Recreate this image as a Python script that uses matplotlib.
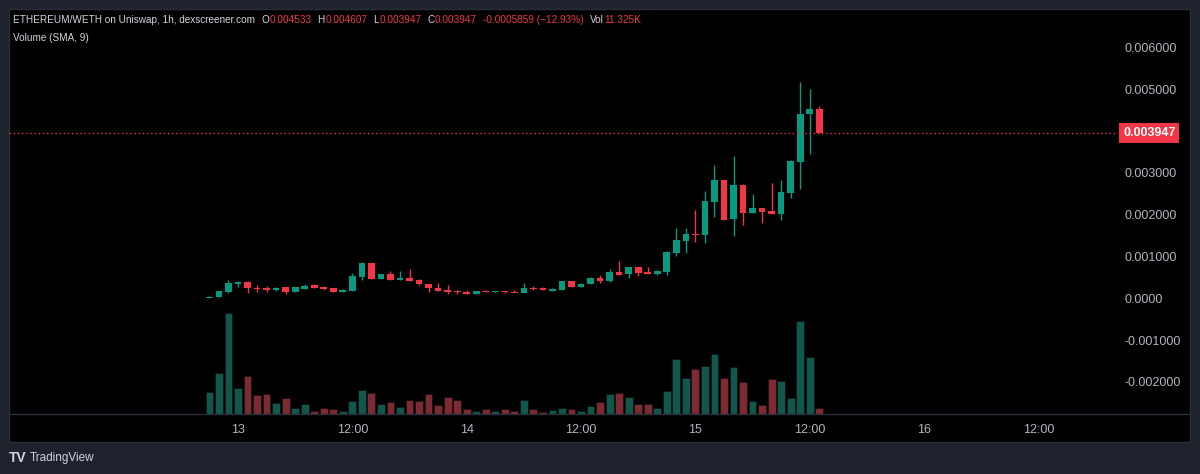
#Import libraries
import matplotlib
matplotlib.use("Agg")
import matplotlib.pyplot as plt
import numpy as np
from matplotlib.patches import Rectangle
from matplotlib.lines import Line2D
import matplotlib.transforms as mtransforms

#Candle data, hourly, hours counted from the 13th 00:00 (prices in thousandths)
hours = list(range(-3, 62))
opens = [0.01, 0.02, 0.15, 0.35, 0.40, 0.25, 0.24, 0.20, 0.26, 0.15, 0.23, 0.31, 0.28, 0.24, 0.15,
         0.17, 0.52, 0.84, 0.45, 0.58, 0.43, 0.49, 0.43, 0.34, 0.25, 0.20, 0.17, 0.16, 0.10, 0.17,
         0.14, 0.17, 0.16, 0.13, 0.25, 0.24, 0.18, 0.20, 0.41, 0.28, 0.33, 0.49, 0.41, 0.62, 0.57,
         0.75, 0.63, 0.59, 0.64, 1.09, 1.37, 1.54, 1.52, 2.31, 2.83, 1.89, 2.72, 2.04, 2.17, 2.08,
         2.02, 2.52, 3.27, 4.40, 4.533]
highs = [0.05, 0.18, 0.43, 0.42, 0.41, 0.32, 0.29, 0.27, 0.27, 0.27, 0.34, 0.33, 0.30, 0.25, 0.22,
         0.60, 0.87, 0.84, 0.59, 0.66, 0.66, 0.71, 0.46, 0.35, 0.36, 0.32, 0.20, 0.20, 0.17, 0.19,
         0.17, 0.17, 0.19, 0.37, 0.29, 0.26, 0.25, 0.41, 0.41, 0.36, 0.51, 0.56, 0.70, 0.88, 0.75,
         0.75, 0.75, 0.67, 1.13, 1.67, 1.67, 2.11, 2.57, 3.19, 2.83, 3.40, 2.73, 2.49, 2.17, 2.75,
         2.83, 3.31, 5.18, 5.00, 4.607]
lows = [0.00, 0.02, 0.13, 0.28, 0.13, 0.16, 0.14, 0.18, 0.11, 0.15, 0.23, 0.24, 0.19, 0.15, 0.15,
        0.17, 0.44, 0.45, 0.45, 0.43, 0.43, 0.41, 0.32, 0.16, 0.17, 0.11, 0.10, 0.10, 0.10, 0.14,
        0.14, 0.12, 0.14, 0.13, 0.21, 0.20, 0.17, 0.20, 0.28, 0.28, 0.33, 0.37, 0.40, 0.56, 0.48,
        0.54, 0.59, 0.55, 0.56, 1.02, 1.09, 1.35, 1.33, 1.95, 1.88, 1.50, 1.75, 2.04, 1.80, 2.02,
        1.86, 2.40, 2.61, 3.44, 3.947]
closes = [0.04, 0.17, 0.37, 0.40, 0.25, 0.22, 0.21, 0.25, 0.16, 0.26, 0.30, 0.25, 0.22, 0.16, 0.20,
          0.53, 0.84, 0.45, 0.58, 0.43, 0.49, 0.41, 0.33, 0.25, 0.17, 0.16, 0.14, 0.10, 0.17, 0.14,
          0.17, 0.14, 0.14, 0.25, 0.22, 0.20, 0.22, 0.41, 0.28, 0.34, 0.48, 0.41, 0.62, 0.56, 0.75,
          0.60, 0.59, 0.66, 1.11, 1.39, 1.54, 1.51, 2.33, 2.83, 1.88, 2.72, 2.04, 2.17, 2.06, 2.02,
          2.55, 3.28, 4.41, 4.52, 3.947]
#Volume in thousands
volumes = [44.6, 82, 202.6, 52, 76.6, 37.4, 40.6, 22.6, 32, 12.6, 19.4, 5.4, 12.6, 10.6, 6,
           26.6, 48, 42.6, 19.4, 24.6, 13.4, 28.6, 25.4, 39.4, 17.4, 33.4, 27.4, 9.4, 6.6, 9.4,
           6.6, 9.4, 5.4, 27.4, 10.6, 3.4, 7.4, 12.6, 9.4, 6, 16, 23.4, 40, 41.4, 34,
           19.4, 19.4, 12.6, 46.6, 110, 72, 90, 95.4, 120, 72, 93.4, 63.4, 25.4, 18, 70,
           66, 32.6, 186.6, 113.4, 11.3]

#Axis ticks
price_ticks = [0.006, 0.005, 0.003, 0.002, 0.001, 0.0, -0.001, -0.002]
price_labels = ["0.006000", "0.005000", "0.003000", "0.002000", "0.001000", "0.0000", "-0.001000", "-0.002000"]
time_ticks = [0, 12, 24, 36, 48, 60, 72, 84]
time_labels = ["13", "12:00", "14", "12:00", "15", "12:00", "16", "12:00"]

#Header texts
title_text = "ETHEREUM/WETH on Uniswap, 1h, dexscreener.com"
ohlc_text = [("O", "0.004533"), ("H", "0.004607"), ("L", "0.003947"), ("C", "0.003947")]
change_text = "-0.0005859 (\u221212.93%)"
vol_text = "11.325K"
last_price = 0.003947

#Colors
UP = "#089981"
DOWN = "#f23645"
UP_VOL = "#11574b"
DOWN_VOL = "#7e2a33"
FRAME = "#1e222d"
BORDER = "#2a2e39"
TXT = "#d1d4dc"
AXTXT = "#b2b5be"

plt.rcParams['font.family'] = ['Liberation Sans', 'DejaVu Sans']

W, H = 1200, 474
fig = plt.figure(figsize=(12, 4.74), dpi=100, facecolor=FRAME)

def fx(px):
    return px / W

def fy(py):
    return 1 - py / H

#Black chart panel
fig.patches.append(Rectangle((fx(9), fy(442)), fx(1190) - fx(9), fy(9) - fy(442),
                             transform=fig.transFigure, facecolor="black", edgecolor=BORDER, lw=1, zorder=0))

rect = [fx(9), fy(414), fx(1118) - fx(9), fy(9) - fy(414)]
x0, x1 = (9 - 238) / 9.529, (1118 - 238) / 9.529

#Volume axes (behind)
axv = fig.add_axes(rect, facecolor="black", zorder=1)
o = np.array(opens)
c = np.array(closes)
up = c >= o
axv.bar(hours, volumes, width=0.82, color=np.where(up, UP_VOL, DOWN_VOL),
        edgecolor="#0c0c0c", linewidth=0.4)
axv.set_xlim(x0, x1)
axv.set_ylim(0, 810)
axv.axis("off")

#Price axes
ax = fig.add_axes(rect, zorder=2)
ax.patch.set_alpha(0)
o = o * 1e-3
c = c * 1e-3
hi = np.array(highs) * 1e-3
lo = np.array(lows) * 1e-3
cols = np.where(up, UP, DOWN)
ax.vlines(hours, lo, hi, colors=cols, linewidth=1)
body = c - o
body = np.where(np.abs(body) < 0.00003, np.where(up, 0.00003, -0.00003), body)
ax.bar(hours, body, bottom=o, width=0.7, color=cols, linewidth=0)

ax.axhline(last_price, color=DOWN, linestyle=(0, (1, 2)), linewidth=1)

ax.set_xlim(x0, x1)
ax.set_ylim((298.3 - 414) / 41.83 * 1e-3, (298.3 - 9) / 41.83 * 1e-3)
for s in ax.spines.values():
    s.set_visible(False)
ax.yaxis.tick_right()
ax.set_yticks(price_ticks)
ax.set_yticklabels(price_labels)
ax.set_xticks(time_ticks)
ax.set_xticklabels(time_labels)
ax.tick_params(axis="y", length=0, pad=5, colors=AXTXT, labelsize=9)
ax.tick_params(axis="x", length=0, pad=7, colors=AXTXT, labelsize=9)

#Last price label
tr = mtransforms.blended_transform_factory(ax.transAxes, ax.transData)
ax.text((1123 - 9) / 1109, last_price, "0.003947", transform=tr, ha="left", va="center",
        color="white", fontsize=9, fontweight="bold",
        bbox=dict(boxstyle="square,pad=0.3", facecolor=DOWN, edgecolor="none"))

#Separator line between plot and time axis
fig.add_artist(Line2D([fx(9), fx(1190)], [fy(414), fy(414)], color=BORDER, lw=1, transform=fig.transFigure))

#Header line built piece by piece
r = fig.canvas.get_renderer()
def put(x, y, s, color, **kw):
    t = fig.text(fx(x), fy(y), s, color=color, fontsize=7.2, va="center", ha="left", **kw)
    return t.get_window_extent(renderer=r).x1

xp = put(13, 20, title_text, TXT) + 6
for k, v in ohlc_text:
    xp = put(xp, 20, k, TXT)
    xp = put(xp + 0.5, 20, v, DOWN) + 6
xp = put(xp, 20, change_text, DOWN) + 6
xp = put(xp, 20, "Vol", TXT)
put(xp + 0.5, 20, vol_text, DOWN)
put(13, 38, "Volume (SMA, 9)", TXT)

#TradingView mark
fig.text(fx(9), fy(458), "TV", color=TXT, fontsize=10, fontweight="bold", va="center", ha="left")
fig.text(fx(30), fy(458), "TradingView", color=TXT, fontsize=8.5, va="center", ha="left")

fig.savefig("out.png", dpi=100, facecolor=FRAME)
